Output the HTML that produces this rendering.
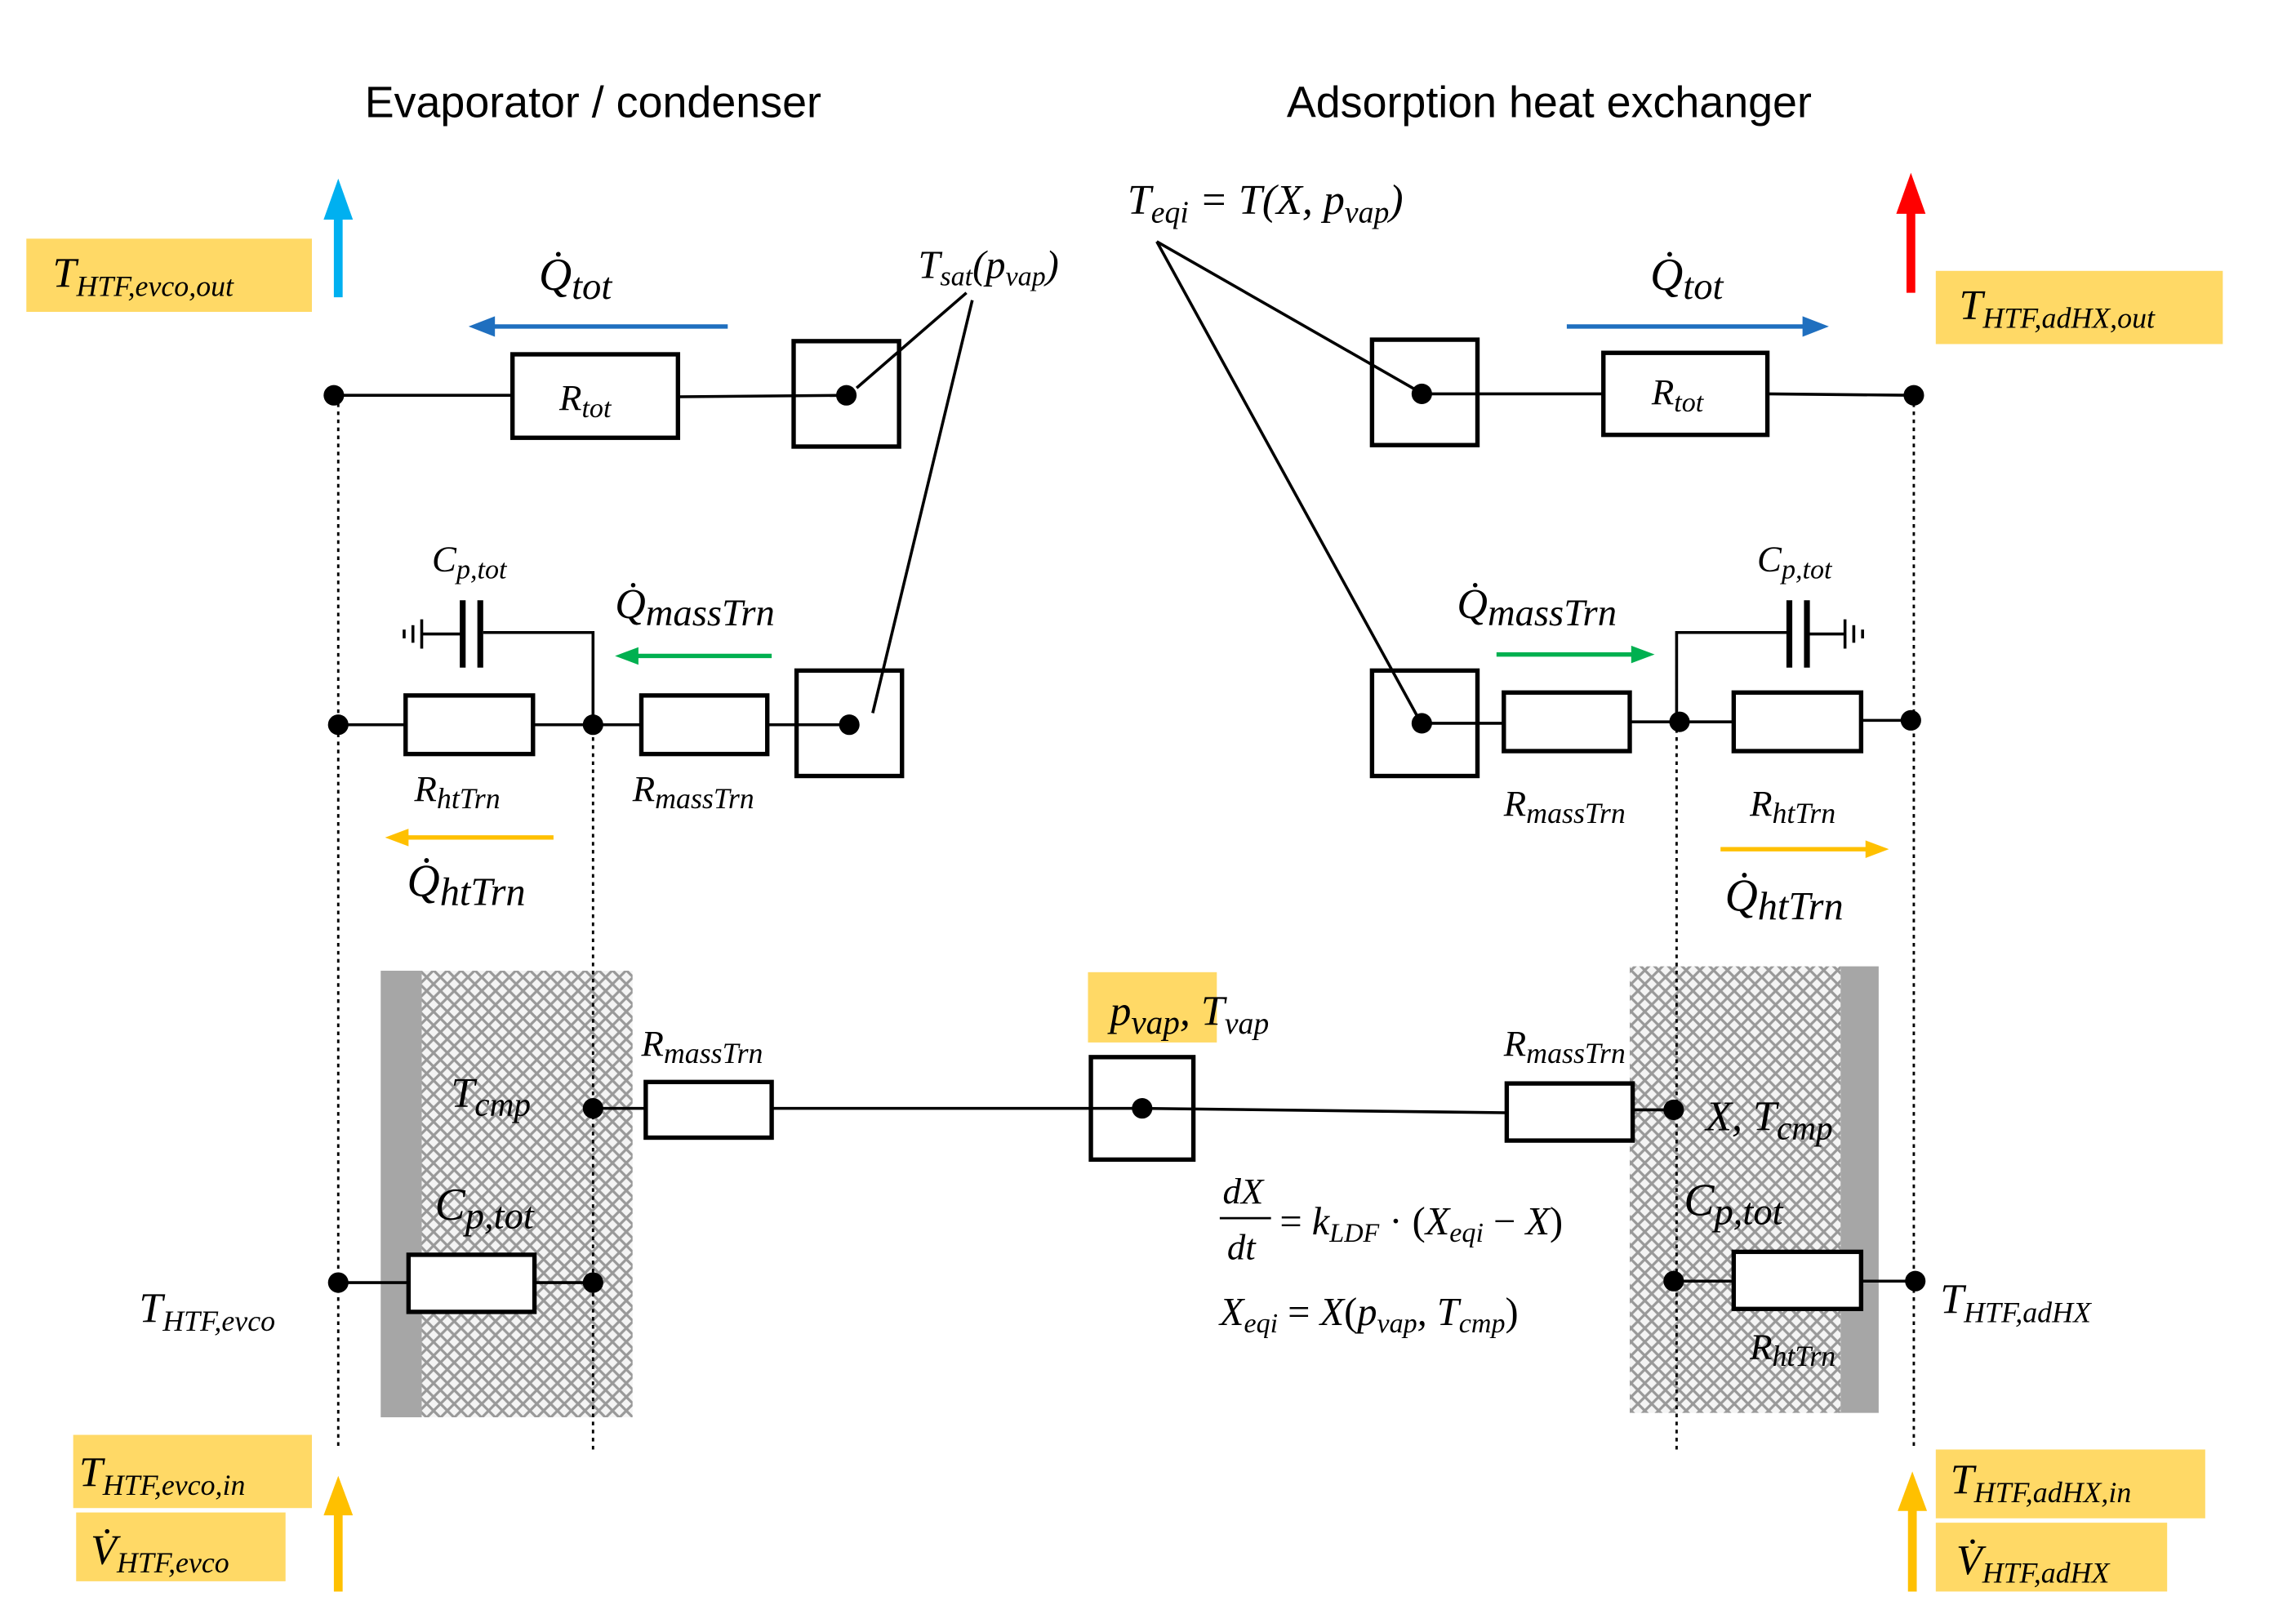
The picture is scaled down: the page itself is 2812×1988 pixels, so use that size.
<!DOCTYPE html>
<html><head><meta charset="utf-8"><style>
html,body{margin:0;padding:0;background:#fff}
svg{display:block}
.m{font-family:"Liberation Serif",serif;font-style:italic;fill:#000}
.t{font-family:"Liberation Sans",sans-serif;fill:#000}
</style></head><body>
<svg width="2812" height="1988" viewBox="0 0 1568 1108.5" preserveAspectRatio="none" xmlns="http://www.w3.org/2000/svg">
<defs>
<pattern id="h" width="9.4" height="9.4" patternUnits="userSpaceOnUse">
<rect width="9.4" height="9.4" fill="#f4f4f4"/>
<path d="M0,0 L9.4,9.4 M9.4,0 L0,9.4" stroke="#999" stroke-width="1.8"/>
</pattern>
</defs>
<rect width="1568" height="1109" fill="#fff"/>
<text class="t" x="405" y="80" font-size="30" text-anchor="middle">Evaporator / condenser</text>
<text class="t" x="1058" y="80" font-size="30" text-anchor="middle">Adsorption heat exchanger</text>

<rect x="288" y="663" width="144" height="305" fill="url(#h)"/>
<rect x="260" y="663" width="28" height="305" fill="#a6a6a6"/>
<rect x="1113" y="660" width="144" height="305" fill="url(#h)"/>
<rect x="1257" y="660" width="26" height="305" fill="#a6a6a6"/>

<g fill="#ffd966">
<rect x="18" y="163" width="195" height="50"/>
<rect x="1322" y="185" width="196" height="50"/>
<rect x="50" y="980" width="163" height="50"/>
<rect x="52" y="1033" width="143" height="47"/>
<rect x="1322" y="990" width="184" height="47"/>
<rect x="1322" y="1040" width="158" height="47"/>
<rect x="743" y="664" width="88" height="48"/>
</g>

<g stroke="#000" stroke-width="1.6" stroke-dasharray="2.5,3">
<line x1="231" y1="270" x2="231" y2="990"/>
<line x1="405" y1="432" x2="405" y2="990"/>
<line x1="1307" y1="270" x2="1307" y2="990"/>
<line x1="1145" y1="432" x2="1145" y2="990"/>
</g>

<g stroke="#000" stroke-width="2" fill="none">
<line x1="228" y1="270" x2="350" y2="270"/>
<line x1="463" y1="271" x2="578" y2="270"/>
<line x1="660" y1="200" x2="585" y2="265"/>
<line x1="664" y1="205" x2="596" y2="487"/>
<line x1="231" y1="495" x2="277" y2="495"/>
<line x1="364" y1="495" x2="438" y2="495"/>
<line x1="524" y1="495" x2="580" y2="495"/>
<polyline points="405,495 405,432 330,432"/>
<line x1="316" y1="410" x2="316" y2="456" stroke-width="4"/>
<line x1="328" y1="410" x2="328" y2="456" stroke-width="4"/>
<line x1="316" y1="433" x2="288" y2="433"/>
<line x1="288" y1="423" x2="288" y2="443"/>
<line x1="282" y1="427" x2="282" y2="439"/>
<line x1="276" y1="430" x2="276" y2="436"/>
<line x1="405" y1="757" x2="441" y2="757"/>
<line x1="527" y1="757" x2="780" y2="757"/>
<line x1="780" y1="757" x2="1029" y2="760"/>
<line x1="1115" y1="758" x2="1143" y2="758"/>
<line x1="231" y1="876" x2="279" y2="876"/>
<line x1="365" y1="876" x2="405" y2="876"/>
<line x1="790" y1="165" x2="970" y2="268"/>
<line x1="790" y1="165" x2="970" y2="493"/>
<line x1="971" y1="269" x2="1095" y2="269"/>
<line x1="1207" y1="269" x2="1307" y2="270"/>
<line x1="971" y1="494" x2="1027" y2="494"/>
<line x1="1113" y1="493" x2="1184" y2="493"/>
<line x1="1271" y1="492" x2="1305" y2="492"/>
<polyline points="1145,493 1145,432 1222,432"/>
<line x1="1222" y1="410" x2="1222" y2="456" stroke-width="4"/>
<line x1="1234" y1="410" x2="1234" y2="456" stroke-width="4"/>
<line x1="1234" y1="433" x2="1260" y2="433"/>
<line x1="1260" y1="423" x2="1260" y2="443"/>
<line x1="1266" y1="427" x2="1266" y2="439"/>
<line x1="1272" y1="430" x2="1272" y2="436"/>
<line x1="1143" y1="875" x2="1184" y2="875"/>
<line x1="1271" y1="875" x2="1308" y2="875"/>
</g>
<g stroke="#000" stroke-width="3" fill="#fff">
<rect x="350" y="242" width="113" height="57"/>
<rect x="542" y="233" width="72" height="72" fill="none"/>
<rect x="277" y="475" width="87" height="40"/>
<rect x="438" y="475" width="86" height="40"/>
<rect x="544" y="458" width="72" height="72" fill="none"/>
<rect x="441" y="739" width="86" height="38"/>
<rect x="745" y="722" width="70" height="70" fill="none"/>
<rect x="1029" y="740" width="86" height="39"/>
<rect x="279" y="857" width="86" height="39"/>
<rect x="937" y="232" width="72" height="72" fill="none"/>
<rect x="1095" y="241" width="112" height="56"/>
<rect x="937" y="458" width="72" height="72" fill="none"/>
<rect x="1027" y="473" width="86" height="40"/>
<rect x="1184" y="473" width="87" height="40"/>
<rect x="1184" y="855" width="87" height="39"/>
</g>

<g fill="#000">
<circle cx="228" cy="270" r="7"/><circle cx="578" cy="270" r="7"/>
<circle cx="231" cy="495" r="7"/><circle cx="405" cy="495" r="7"/><circle cx="580" cy="495" r="7"/>
<circle cx="405" cy="757" r="7"/><circle cx="780" cy="757" r="7"/><circle cx="1143" cy="758" r="7"/>
<circle cx="231" cy="876" r="7"/><circle cx="405" cy="876" r="7"/>
<circle cx="971" cy="269" r="7"/><circle cx="1307" cy="270" r="7"/>
<circle cx="971" cy="494" r="7"/><circle cx="1147" cy="493" r="7"/><circle cx="1305" cy="492" r="7"/>
<circle cx="1143" cy="875" r="7"/><circle cx="1308" cy="875" r="7"/>
</g>

<g stroke-width="3">
<line x1="497" y1="223" x2="335" y2="223" stroke="#1f6fbf"/><path d="M320,223 L338,216 L338,230z" fill="#1f6fbf"/>
<line x1="1070" y1="223" x2="1233" y2="223" stroke="#1f6fbf"/><path d="M1249,223 L1231,216 L1231,230z" fill="#1f6fbf"/>
<line x1="527" y1="448" x2="434" y2="448" stroke="#00b050"/><path d="M420,448 L436,442 L436,454z" fill="#00b050"/>
<line x1="1022" y1="447" x2="1116" y2="447" stroke="#00b050"/><path d="M1130,447 L1114,441 L1114,453z" fill="#00b050"/>
<line x1="378" y1="572" x2="277" y2="572" stroke="#ffc000"/><path d="M263,572 L279,566 L279,578z" fill="#ffc000"/>
<line x1="1175" y1="580" x2="1276" y2="580" stroke="#ffc000"/><path d="M1290,580 L1274,574 L1274,586z" fill="#ffc000"/>
</g>
<g stroke-width="6">
<line x1="231" y1="203" x2="231" y2="145" stroke="#00b0f0"/><path d="M231,122 L221,150 L241,150z" fill="#00b0f0"/>
<line x1="1305" y1="200" x2="1305" y2="142" stroke="#ff0000"/><path d="M1305,118 L1295,146 L1315,146z" fill="#ff0000"/>
<line x1="231" y1="1087" x2="231" y2="1030" stroke="#ffc000"/><path d="M231,1008 L221,1035 L241,1035z" fill="#ffc000"/>
<line x1="1306" y1="1087" x2="1306" y2="1028" stroke="#ffc000"/><path d="M1306,1005 L1296,1032 L1316,1032z" fill="#ffc000"/>
</g>

<g class="m">
<text x="36" y="196" font-size="29">T<tspan font-size="20" dy="6">HTF,evco,out</tspan></text>
<text x="1338" y="218" font-size="29">T<tspan font-size="20" dy="6">HTF,adHX,out</tspan></text>
<text x="368" y="198" font-size="31">Q̇<tspan font-size="26" dy="6">tot</tspan></text>
<text x="1127" y="198" font-size="31">Q̇<tspan font-size="26" dy="6">tot</tspan></text>
<text x="382" y="280" font-size="25">R<tspan font-size="19" dy="5">tot</tspan></text>
<text x="1128" y="276" font-size="25">R<tspan font-size="19" dy="5">tot</tspan></text>
<text x="627" y="190" font-size="27">T<tspan font-size="19" dy="5">sat</tspan><tspan dy="-5">(p</tspan><tspan font-size="19" dy="5">vap</tspan><tspan dy="-5">)</tspan></text>
<text x="770" y="146" font-size="29">T<tspan font-size="21" dy="6">eqi</tspan><tspan dy="-6"> =  T(X, p</tspan><tspan font-size="21" dy="6">vap</tspan><tspan dy="-6">)</tspan></text>
<text x="295" y="390" font-size="25">C<tspan font-size="19" dy="5">p,tot</tspan></text>
<text x="1200" y="390" font-size="25">C<tspan font-size="19" dy="5">p,tot</tspan></text>
<text x="420" y="422" font-size="29">Q̇<tspan font-size="26" dy="5">massTrn</tspan></text>
<text x="995" y="422" font-size="29">Q̇<tspan font-size="26" dy="5">massTrn</tspan></text>
<text x="283" y="547" font-size="25">R<tspan font-size="20" dy="5">htTrn</tspan></text>
<text x="432" y="547" font-size="25">R<tspan font-size="20" dy="5">massTrn</tspan></text>
<text x="1027" y="557" font-size="25">R<tspan font-size="20" dy="5">massTrn</tspan></text>
<text x="1195" y="557" font-size="25">R<tspan font-size="20" dy="5">htTrn</tspan></text>
<text x="278" y="612" font-size="31">Q̇<tspan font-size="27" dy="6">htTrn</tspan></text>
<text x="1178" y="622" font-size="31">Q̇<tspan font-size="27" dy="6">htTrn</tspan></text>
<text x="308" y="756" font-size="29">T<tspan font-size="23" dy="6">cmp</tspan></text>
<text x="438" y="721" font-size="25">R<tspan font-size="20" dy="5">massTrn</tspan></text>
<text x="1027" y="721" font-size="25">R<tspan font-size="20" dy="5">massTrn</tspan></text>
<text x="758" y="700" font-size="29">p<tspan font-size="23" dy="6">vap</tspan><tspan dy="-6">, T</tspan><tspan font-size="21" dy="6">vap</tspan></text>
<text x="1165" y="772" font-size="29">X, T<tspan font-size="23" dy="6">cmp</tspan></text>
<text x="297" y="833" font-size="31">C<tspan font-size="26" dy="6">p,tot</tspan></text>
<text x="1150" y="830" font-size="31">C<tspan font-size="26" dy="6">p,tot</tspan></text>
<text x="95" y="903" font-size="29">T<tspan font-size="20" dy="6">HTF,evco</tspan></text>
<text x="1325" y="897" font-size="29">T<tspan font-size="20" dy="6">HTF,adHX</tspan></text>
<text x="1195" y="928" font-size="25">R<tspan font-size="20" dy="5">htTrn</tspan></text>
<text x="54" y="1015" font-size="29">T<tspan font-size="20" dy="6">HTF,evco,in</tspan></text>
<text x="62" y="1068" font-size="29">V̇<tspan font-size="20" dy="6">HTF,evco</tspan></text>
<text x="1332" y="1020" font-size="29">T<tspan font-size="20" dy="6">HTF,adHX,in</tspan></text>
<text x="1336" y="1075" font-size="29">V̇<tspan font-size="20" dy="6">HTF,adHX</tspan></text>
<text x="835" y="822" font-size="25">dX</text>
<line x1="833" y1="832" x2="868" y2="832" stroke="#000" stroke-width="1.5"/>
<text x="838" y="860" font-size="25">dt</text>
<text x="874" y="843" font-size="27"><tspan font-style="normal">= </tspan>k<tspan font-size="18" dy="5">LDF</tspan><tspan dy="-5" font-style="normal"> · (</tspan>X<tspan font-size="19" dy="5">eqi</tspan><tspan dy="-5" font-style="normal"> − </tspan>X<tspan font-style="normal">)</tspan></text>
<text x="833" y="905" font-size="27">X<tspan font-size="19" dy="5">eqi</tspan><tspan dy="-5" font-style="normal"> = </tspan>X<tspan font-style="normal">(</tspan>p<tspan font-size="19" dy="5">vap</tspan><tspan dy="-5">, T</tspan><tspan font-size="19" dy="5">cmp</tspan><tspan dy="-5" font-style="normal">)</tspan></text>
</g>
</svg>
</body></html>
